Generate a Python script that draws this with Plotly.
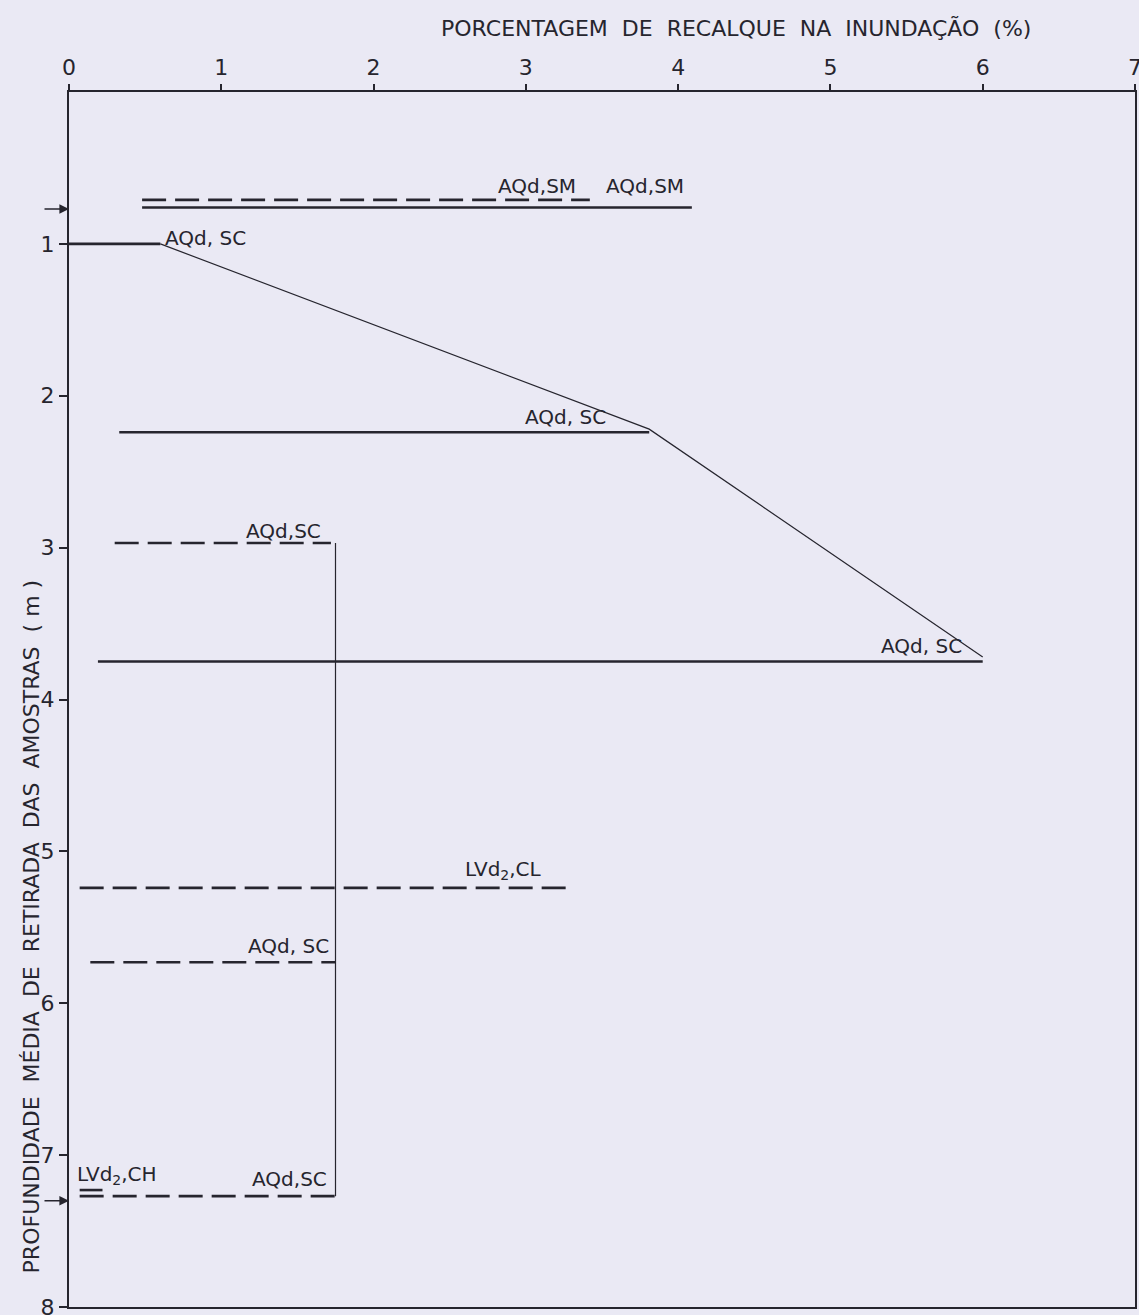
import plotly.graph_objects as go

# Horizontal sample segments (depth in m, settlement % start/end)
seg_labels = ["AQd,SM (tracejado)", "AQd,SM", "AQd,SC", "AQd,SC", "AQd,SC", "AQd,SC",
              "LVd2,CL", "AQd,SC", "AQd,SC", "LVd2,CH"]
seg_depth = [0.71, 0.76, 1.00, 2.24, 2.97, 3.75, 5.24, 5.73, 7.27, 7.23]
seg_x0 = [0.48, 0.48, 0.00, 0.33, 0.30, 0.19, 0.07, 0.14, 0.07, 0.07]
seg_x1 = [3.42, 4.09, 0.60, 3.81, 1.72, 6.00, 3.27, 1.75, 1.78, 0.22]
seg_dash = ["dash", "solid", "solid", "solid", "dash", "solid", "dash", "dash", "dash", "dash"]

# Thin envelope lines
env1_x = [0.60, 3.81, 6.00]
env1_y = [1.00, 2.22, 3.72]
env2_x = [1.75, 1.75]
env2_y = [2.97, 7.27]

# Text labels
lab_text = ["AQd,SM", "AQd,SM", "AQd, SC", "AQd, SC", "AQd,SC", "AQd, SC",
            "LVd<sub>2</sub>,CL", "AQd, SC", "AQd,SC", "LVd<sub>2</sub>,CH"]
lab_x = [3.07, 3.78, 0.62, 3.26, 1.41, 5.60, 2.85, 1.44, 1.45, 0.04]
lab_y = [0.62, 0.62, 0.96, 2.14, 2.89, 3.65, 5.12, 5.62, 7.16, 7.13]
lab_anchor = ["center", "center", "left", "center", "center", "center", "center", "center", "center", "left"]

# Arrow markers on the depth axis
arrow_depth = [0.77, 7.30]

x_ticks = [0, 1, 2, 3, 4, 5, 6, 7]
y_ticks = [1, 2, 3, 4, 5, 6, 7, 8]

ink = "#26252e"
bg = "#eae9f4"
font_fam = "DejaVu Sans, Liberation Sans, sans-serif"

fig = go.Figure()

for i in range(len(seg_depth)):
    fig.add_trace(go.Scatter(
        x=[seg_x0[i], seg_x1[i]], y=[seg_depth[i], seg_depth[i]],
        mode="lines",
        line=dict(color=ink, width=2.6,
                  dash=("24px,9px" if seg_dash[i] == "dash" else "solid")),
        showlegend=False, hoverinfo="skip", name=seg_labels[i]))

fig.add_trace(go.Scatter(x=env1_x, y=env1_y, mode="lines",
                         line=dict(color=ink, width=1.2), showlegend=False, hoverinfo="skip"))
fig.add_trace(go.Scatter(x=env2_x, y=env2_y, mode="lines",
                         line=dict(color=ink, width=1.2), showlegend=False, hoverinfo="skip"))

for t, x, y, a in zip(lab_text, lab_x, lab_y, lab_anchor):
    fig.add_annotation(x=x, y=y, text=t, showarrow=False, xanchor=a, yanchor="middle",
                       font=dict(family=font_fam, size=20, color=ink))

for d in arrow_depth:
    fig.add_annotation(x=0, y=d, ax=-26, ay=0, text="", showarrow=True,
                       arrowhead=2, arrowsize=1.2, arrowwidth=1.6, arrowcolor=ink,
                       standoff=0)

# Axis titles
fig.add_annotation(xref="paper", yref="paper", x=0.626, y=1.0527,
                   text="PORCENTAGEM  DE  RECALQUE  NA  INUNDAÇÃO  (%)",
                   showarrow=False, xanchor="center", yanchor="middle",
                   font=dict(family=font_fam, size=22, color=ink))
fig.add_annotation(xref="paper", yref="paper", x=-0.035, y=0.313,
                   text="PROFUNDIDADE  MÉDIA  DE  RETIRADA  DAS  AMOSTRAS  ( m )",
                   textangle=-90, showarrow=False, xanchor="center", yanchor="middle",
                   font=dict(family=font_fam, size=22, color=ink))

fig.update_layout(
    width=1139, height=1315,
    margin=dict(l=69, r=4, t=92, b=8, autoexpand=False),
    paper_bgcolor=bg, plot_bgcolor=bg,
    font=dict(family=font_fam, color=ink),
    xaxis=dict(side="top", range=[0, 7], tickvals=x_ticks, ticktext=[str(v) for v in x_ticks],
               showgrid=False, zeroline=False, showline=True, linecolor=ink, linewidth=2,
               mirror=True, ticks="outside", ticklen=6, tickwidth=1.5, tickcolor=ink,
               ticklabeloverflow="allow", automargin=False,
               tickfont=dict(size=22, color=ink, family=font_fam)),
    yaxis=dict(range=[8, 0], tickvals=y_ticks, ticktext=[str(v) for v in y_ticks],
               showgrid=False, zeroline=False, showline=True, linecolor=ink, linewidth=2,
               mirror=True, ticks="outside", ticklen=8, tickwidth=1.5, tickcolor=ink,
               ticklabeloverflow="allow", automargin=False,
               tickfont=dict(size=22, color=ink, family=font_fam)),
)

fig.write_html("out.html", config={"displayModeBar": False},
               post_script="document.body.style.margin='0';document.body.style.background='%s';" % bg)
